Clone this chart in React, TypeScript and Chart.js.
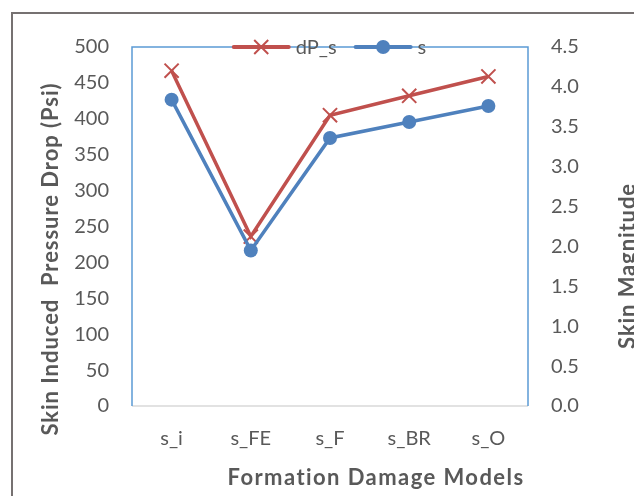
import { useEffect, useRef } from 'react';
import { Chart, registerables } from 'chart.js';

Chart.register(...registerables);

const categories = ['s_i', 's_FE', 's_F', 's_BR', 's_O'];
const dpS = [467, 236, 405, 432, 459];
const skin = [3.84, 1.95, 3.36, 3.56, 3.76];
const seriesNames = ['dP_s', 's'];
const leftTitle = 'Skin Induced  Pressure Drop (Psi)';
const rightTitle = 'Skin Magnitude';
const bottomTitle = 'Formation Damage Models';

const RED = '#C0504D';
const BLUE = '#4F81BD';
const TEXT = '#595959';
const FONT = 'Lato';

function fitText(ctx: CanvasRenderingContext2D, text: string, target: number) {
  (ctx as any).letterSpacing = '0px';
  const w = ctx.measureText(text).width;
  const sp = (target - w) / Math.max(1, text.length - 1);
  (ctx as any).letterSpacing = sp.toFixed(2) + 'px';
  return sp;
}

export default function App() {
  const ref = useRef<HTMLCanvasElement>(null);

  useEffect(() => {
    const canvas = ref.current;
    if (!canvas) return;

    const decor = {
      id: 'decor',
      beforeDraw(chart: any) {
        const ctx = chart.ctx as CanvasRenderingContext2D;
        ctx.save();
        ctx.fillStyle = '#ffffff';
        ctx.fillRect(0, 0, chart.width, chart.height);
        ctx.fillStyle = '#767171';
        ctx.fillRect(11, 12, 2, chart.height);
        ctx.fillRect(11, 12, chart.width, 2);
        ctx.restore();
      },
      beforeDatasetsDraw(chart: any) {
        const ctx = chart.ctx as CanvasRenderingContext2D;
        const { left, right, top, bottom } = chart.chartArea;
        ctx.save();
        ctx.lineWidth = 1.5;
        ctx.strokeStyle = '#D9D9D9';
        ctx.beginPath();
        ctx.moveTo(left, bottom);
        ctx.lineTo(right, bottom);
        ctx.stroke();
        ctx.strokeStyle = '#5B9BD5';
        ctx.beginPath();
        ctx.moveTo(left, bottom);
        ctx.lineTo(left, top);
        ctx.lineTo(right, top);
        ctx.lineTo(right, bottom);
        ctx.stroke();
        ctx.restore();
      },
      afterDatasetsDraw(chart: any) {
        const ctx = chart.ctx as CanvasRenderingContext2D;
        const { left, right, top } = chart.chartArea;
        ctx.save();
        // legend
        ctx.font = `20px ${FONT}`;
        ctx.textBaseline = 'middle';
        ctx.textAlign = 'left';
        const lineLen = 55;
        const gapText = 7;
        const gapItems = 19;
        const widths = seriesNames.map((n) => ctx.measureText(n).width);
        const total = widths.reduce((a, w) => a + lineLen + gapText + w, 0) + gapItems;
        let x = (left + right) / 2 - total / 2;
        const y = top;
        const colors = [RED, BLUE];
        seriesNames.forEach((name, i) => {
          ctx.strokeStyle = colors[i];
          ctx.lineWidth = 4;
          ctx.lineCap = 'round';
          ctx.beginPath();
          ctx.moveTo(x, y);
          ctx.lineTo(x + lineLen, y);
          ctx.stroke();
          const cx = x + lineLen / 2;
          if (i === 0) {
            ctx.lineWidth = 2;
            ctx.lineCap = 'butt';
            ctx.beginPath();
            ctx.moveTo(cx - 7, y - 7);
            ctx.lineTo(cx + 7, y + 7);
            ctx.moveTo(cx + 7, y - 7);
            ctx.lineTo(cx - 7, y + 7);
            ctx.stroke();
          } else {
            ctx.fillStyle = colors[i];
            ctx.beginPath();
            ctx.arc(cx, y, 7, 0, Math.PI * 2);
            ctx.fill();
          }
          ctx.fillStyle = TEXT;
          ctx.fillText(name, x + lineLen + gapText, y + 1);
          x += lineLen + gapText + widths[i] + gapItems;
        });

        // titles
        ctx.fillStyle = TEXT;
        ctx.font = `bold 22px ${FONT}`;
        ctx.textAlign = 'center';
        ctx.textBaseline = 'middle';
        fitText(ctx, bottomTitle, 296);
        ctx.fillText(bottomTitle, 376, 478);

        ctx.save();
        ctx.translate(51, 259);
        ctx.rotate(-Math.PI / 2);
        fitText(ctx, leftTitle, 352);
        ctx.fillText(leftTitle, 0, 0);
        ctx.restore();

        ctx.save();
        ctx.translate(628, 266);
        ctx.rotate(-Math.PI / 2);
        fitText(ctx, rightTitle, 165);
        ctx.fillText(rightTitle, 0, 0);
        ctx.restore();

        ctx.restore();
      },
    };

    const chart = new Chart(canvas, {
      type: 'line',
      data: {
        labels: categories,
        datasets: [
          {
            label: seriesNames[0],
            data: dpS,
            yAxisID: 'y',
            borderColor: RED,
            backgroundColor: RED,
            borderWidth: 3.5,
            pointStyle: 'crossRot',
            pointRadius: 10,
            pointBorderWidth: 2,
            pointBorderColor: RED,
            order: 1,
          },
          {
            label: seriesNames[1],
            data: skin,
            yAxisID: 'y1',
            borderColor: BLUE,
            backgroundColor: BLUE,
            borderWidth: 3.5,
            pointStyle: 'circle',
            pointRadius: 7,
            pointBorderWidth: 0,
            pointBackgroundColor: BLUE,
            order: 0,
          },
        ],
      },
      options: {
        animation: false,
        responsive: false,
        maintainAspectRatio: false,
        layout: { padding: { top: 47, left: 0, right: 0, bottom: 0 } },
        plugins: {
          legend: { display: false },
          title: { display: false },
          tooltip: { enabled: false },
        },
        scales: {
          x: {
            type: 'category',
            offset: true,
            grid: { display: false, drawTicks: false },
            border: { display: false },
            ticks: {
              color: TEXT,
              font: { family: FONT, size: 20 },
              padding: 21,
              maxRotation: 0,
            },
            afterFit(scale: any) {
              scale.height = 90;
            },
          },
          y: {
            position: 'left',
            min: 0,
            max: 500,
            grid: { display: false, drawTicks: false },
            border: { display: false },
            ticks: {
              stepSize: 50,
              color: TEXT,
              font: { family: FONT, size: 20 },
              padding: 23,
            },
            afterFit(scale: any) {
              scale.width = 132;
            },
          },
          y1: {
            position: 'right',
            min: 0,
            max: 4.5,
            grid: { display: false, drawTicks: false },
            border: { display: false },
            ticks: {
              stepSize: 0.5,
              color: TEXT,
              font: { family: FONT, size: 20 },
              padding: 23,
              callback: (v: any) => Number(v).toFixed(1),
            },
            afterFit(scale: any) {
              scale.width = 106;
            },
          },
        },
      },
      plugins: [decor],
    });

    return () => chart.destroy();
  }, []);

  return (
    <canvas
      ref={ref}
      width={634}
      height={496}
      style={{ position: 'fixed', left: 0, top: 0, display: 'block' }}
    />
  );
}
